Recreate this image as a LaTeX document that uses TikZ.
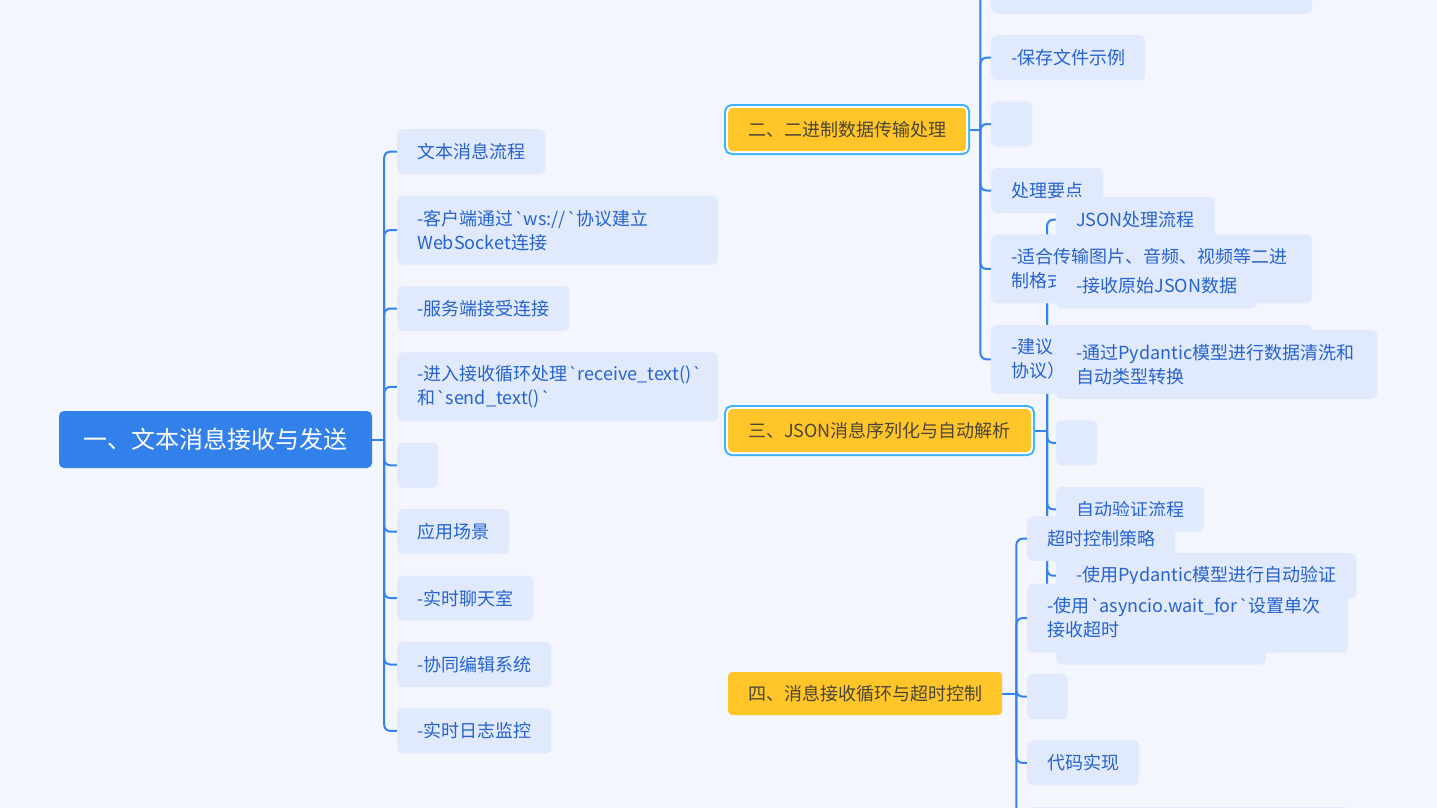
\documentclass[tikz,border=0pt]{standalone}
\usepackage{fontspec}
\newfontfamily\cjk{Noto Sans CJK SC}
\newfontfamily\latinfont{Open Sans}
\usepackage{tikz}
\usetikzlibrary{positioning}
\definecolor{paperbg}{RGB}{244,246,253}
\definecolor{rootblue}{RGB}{50,128,234}
\definecolor{amber}{RGB}{255,197,41}
\definecolor{branchink}{RGB}{74,70,54}
\definecolor{halo}{RGB}{60,180,245}
\definecolor{leaffill}{RGB}{225,233,253}
\definecolor{leafink}{RGB}{38,99,205}
\definecolor{wire}{RGB}{52,130,238}
\newcommand{\tick}{{\latinfont`}}
\pgfdeclarelayer{paper}
\pgfdeclarelayer{wires}
\pgfsetlayers{paper,wires,main}
\tikzset{
  every picture/.style={line width=0.5pt},
  topic/.style={fill=rootblue, text=white, rounded corners=5pt, font=\cjk\fontsize{24}{30}\selectfont, minimum width=313pt, minimum height=57pt},
  branch/.style={fill=amber, text=branchink, rounded corners=4pt, font=\cjk\fontsize{18}{24}\selectfont, inner xsep=20pt, minimum height=43pt, anchor=west},
  picked/.style={branch, preaction={draw=halo, line width=8pt}, preaction={draw=white, line width=4pt}},
  leaf/.style={fill=leaffill, text=leafink, rounded corners=6pt, font=\cjk\fontsize{18}{24}\selectfont, inner xsep=20pt, inner ysep=0pt, minimum height=45pt, align=left},
  twoline/.style={leaf, text width=281pt, minimum height=69pt},
  blank/.style={leaf, minimum width=41pt},
  under/.style={below right=21pt and 0pt of #1.south west},
  link/.style={draw=wire, line width=2pt, rounded corners=6pt},
}
\begin{document}
\begin{tikzpicture}[x=1pt, y=-1pt]
  \useasboundingbox (0,0) rectangle (1437,808);
  \begin{pgfonlayer}{paper}
    \fill[paperbg] (0,0) rectangle (1437,808);
  \end{pgfonlayer}
  % main topics
  \node[topic] (recv) at (215.5,439.5) {一、文本消息接收与发送};
  \node[picked] (binary) at (728,129.5) {二、二进制数据传输处理};
  \node[picked] (json) at (728,430.5) {三、JSON消息序列化与自动解析};
  \node[branch] (timeout) at (728,693.5) {四、消息接收循环与超时控制};
  % first branch
  \node[leaf, anchor=north west] (flow) at (397,129) {文本消息流程};
  \node[twoline, under=flow] (wsopen) {\mbox{-客户端通过\tick ws://\tick 协议建立}\\WebSocket连接};
  \node[leaf, under=wsopen] (accept) {-服务端接受连接};
  \node[twoline, under=accept] (loop) {\mbox{-进入接收循环处理\tick receive\_text()\tick}\\\mbox{和\tick send\_text()\tick}};
  \node[blank, under=loop] (gapA) {};
  \node[leaf, under=gapA] (scene) {应用场景};
  \node[leaf, under=scene] (chat) {-实时聊天室};
  \node[leaf, under=chat] (coedit) {-协同编辑系统};
  \node[leaf, under=coedit] (logmon) {-实时日志监控};
  % second and third branch, stacked as they overlap
  \node[twoline, anchor=south west] (bintop) at (991,14) {};
  \node[leaf, under=bintop] (savefile) {-保存文件示例};
  \node[blank, under=savefile] (gapB) {};
  \node[leaf, under=gapB] (keypt) {处理要点};
  \node[leaf, anchor=north west] (jflow) at (1056,197) {JSON处理流程};
  \node[twoline, under=keypt] (suited) {\mbox{-适合传输图片、音频、视频等二进}\\制格式};
  \node[leaf, under=jflow] (rawjson) {-接收原始JSON数据};
  \node[twoline, under=suited] (advise) {-建议\\协议）};
  \node[twoline, under=rawjson] (pyclean) {\mbox{-通过Pydantic模型进行数据清洗和}\\自动类型转换};
  \node[blank, under=pyclean] (gapC) {};
  \node[leaf, under=gapC] (vflow) {自动验证流程};
  % fourth branch
  \node[leaf, anchor=north west] (tstrat) at (1027,516) {超时控制策略};
  \node[leaf, under=vflow] (pycheck) {-使用Pydantic模型进行自动验证};
  \node[leaf, minimum width=210pt, under=pycheck] (jlast) {};
  \node[twoline, below right=22pt and 0pt of tstrat.south west] (waitfor) {\mbox{-使用\tick asyncio.wait\_for\tick 设置单次}\\接收超时};
  \node[blank, under=waitfor] (gapD) {};
  \node[leaf, under=gapD] (code) {代码实现};
  \node[twoline, under=code] (tlast) {};
  % connectors
  \begin{pgfonlayer}{wires}
    \path (recv.east) ++(12pt,0) coordinate (j1);
    \path (binary.east) ++(14pt,0) coordinate (j2);
    \path (json.east) ++(16pt,0) coordinate (j3);
    \path (timeout.east) ++(14pt,0) coordinate (j4);
    \draw[link] (recv.east) -- (j1);
    \draw[link] (binary.east) -- (j2);
    \draw[link] (json.east) -- (j3);
    \draw[link] (timeout.east) -- (j4);
    \foreach \leaf in {flow,wsopen,accept,loop,gapA,scene,chat,coedit,logmon}
      \draw[link] (j1) |- (\leaf.west);
    \foreach \leaf in {bintop,savefile,gapB,keypt,suited,advise}
      \draw[link] (j2) |- (\leaf.west);
    \foreach \leaf in {jflow,rawjson,pyclean,gapC,vflow,pycheck,jlast}
      \draw[link] (j3) |- (\leaf.west);
    \foreach \leaf in {tstrat,waitfor,gapD,code,tlast}
      \draw[link] (j4) |- (\leaf.west);
  \end{pgfonlayer}
\end{tikzpicture}
\end{document}
